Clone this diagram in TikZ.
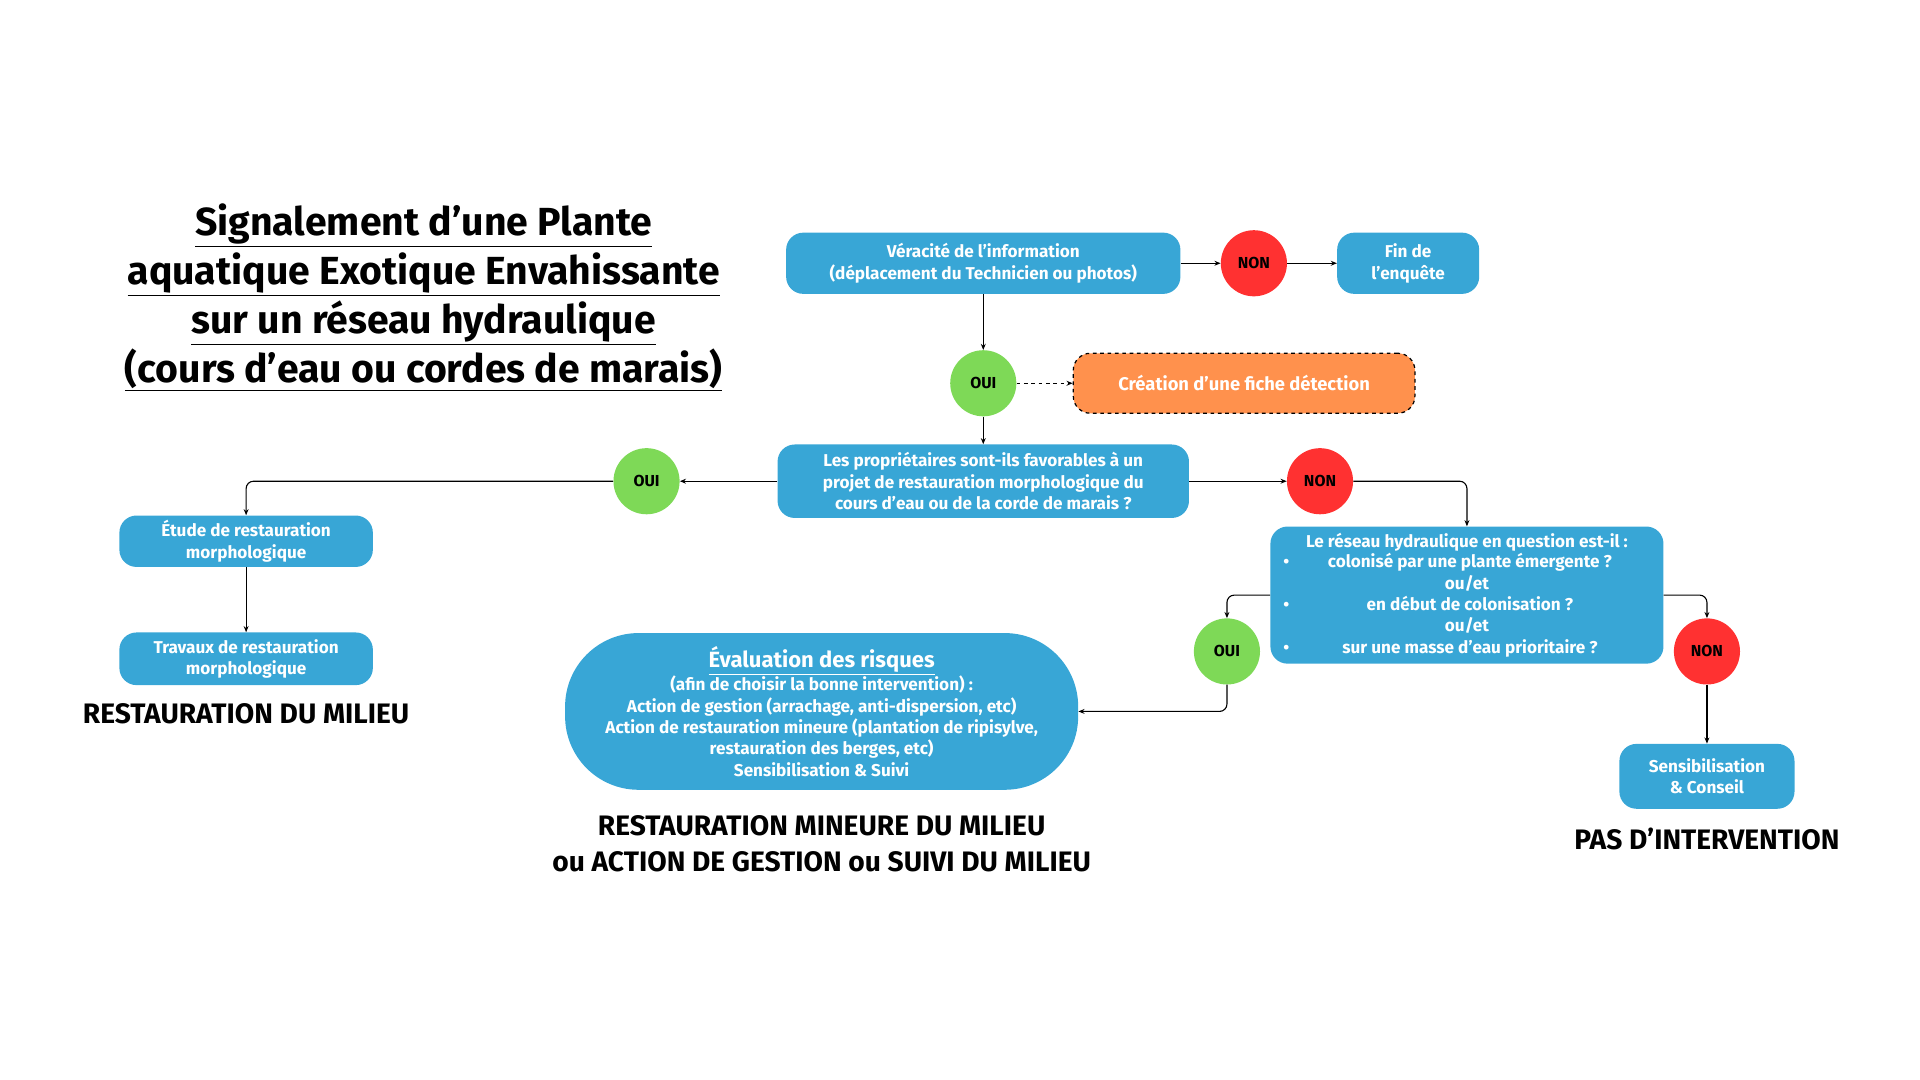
\documentclass[tikz,border=0pt]{standalone}
\usepackage{fontspec}
\setmainfont{Fira Sans}
\usetikzlibrary{arrows.meta}
\definecolor{bl}{HTML}{38A6D6}
\definecolor{rd}{HTML}{FF3131}
\definecolor{gr}{HTML}{7ED957}
\definecolor{og}{HTML}{FF914D}
\begin{document}
\begin{tikzpicture}[x=1pt,y=-1pt,
  box/.style={fill=bl,rounded corners=14pt,text=white,font=\fontsize{14}{17.5}\selectfont\bfseries,align=center,inner sep=0pt},
  circ/.style={circle,minimum size=54pt,inner sep=0pt,font=\fontsize{13}{15}\selectfont\bfseries},
  ar/.style={-{Stealth[length=5pt,width=4pt]},line width=0.9pt,rounded corners=6pt},
  big/.style={font=\fontsize{23}{30}\selectfont\bfseries,align=center}]
\useasboundingbox (0,0) rectangle (1568,882);
\node[font=\fontsize{32}{40}\selectfont\bfseries,align=center] (title) at (346,243)
 {\underline{Signalement d’une Plante}\\\underline{aquatique Exotique Envahissante}\\\underline{sur un réseau hydraulique}\\\underline{(cours d’eau ou cordes de marais)}};
\node[box,minimum width=322pt,minimum height=50pt] (b1) at (803,215) {Véracité de l’information\\(déplacement du Technicien ou photos)};
\node[circ,fill=rd] (n1) at (1024,215) {NON};
\node[box,minimum width=116pt,minimum height=50pt] (fin) at (1150,215) {Fin de\\l’enquête};
\node[circ,fill=gr] (o1) at (803,313) {OUI};
\node[fill=og,draw=black,dashed,line width=1pt,rounded corners=14pt,minimum width=279pt,minimum height=49pt,text=white,font=\fontsize{15}{18}\selectfont\bfseries] (cre) at (1016,313) {Création d’une fiche détection};
\node[box,minimum width=336pt,minimum height=60pt] (b2) at (803,393) {Les propriétaires sont-ils favorables à un\\projet de restauration morphologique du\\cours d’eau ou de la corde de marais ?};
\node[circ,fill=gr] (o2) at (528,393) {OUI};
\node[circ,fill=rd] (n2) at (1078,393) {NON};
\node[box,minimum width=207pt,minimum height=42pt] (etu) at (201,442) {Étude de restauration\\morphologique};
\node[box,minimum width=207pt,minimum height=43pt] (tra) at (201,538) {Travaux de restauration\\morphologique};
\node[big] (rm) at (201,583) {RESTAURATION DU MILIEU};
\node[box,minimum width=321pt,minimum height=112pt] (b3) at (1198,486) {Le réseau hydraulique en question est-il :\\[-1pt]
 \makebox[300pt]{•\hfill colonisé par une plante émergente ?\hfill}\\ou/et\\
 \makebox[300pt]{•\hfill en début de colonisation ?\hfill}\\ou/et\\
 \makebox[300pt]{•\hfill sur une masse d’eau prioritaire ?\hfill}};
\node[circ,fill=gr] (o3) at (1002,532) {OUI};
\node[circ,fill=rd] (n3) at (1394,532) {NON};
\node[box,rounded corners=60pt,minimum width=419pt,minimum height=128pt] (ev) at (671,581) {{\fontsize{18}{20}\selectfont\underline{Évaluation des risques}}\\(afin de choisir la bonne intervention) :\\Action de gestion (arrachage, anti-dispersion, etc)\\Action de restauration mineure (plantation de ripisylve,\\restauration des berges, etc)\\Sensibilisation \& Suivi};
\node[box,minimum width=143pt,minimum height=53pt] (sen) at (1394,634) {Sensibilisation\\\& Conseil};
\node[big] (pas) at (1394,685) {PAS D’INTERVENTION};
\node[big] (rmm) at (671,689) {RESTAURATION MINEURE DU MILIEU\\ou ACTION DE GESTION ou SUIVI DU MILIEU};
\draw[ar] (b1) -- (n1);
\draw[ar] (n1) -- (fin);
\draw[ar] (b1) -- (o1);
\draw[ar,dashed] (o1) -- (cre);
\draw[ar] (o1) -- (b2);
\draw[ar] (b2) -- (o2);
\draw[ar] (o2) -| (etu);
\draw[ar] (etu) -- (tra);
\draw[ar] (b2) -- (n2);
\draw[ar] (n2) -| (b3);
\draw[ar] (b3.west) -| (o3);
\draw[ar] (b3.east) -| (n3);
\draw[ar] (o3.south) |- (ev.east);
\draw[ar] (n3) -- (sen);
\end{tikzpicture}
\end{document}
